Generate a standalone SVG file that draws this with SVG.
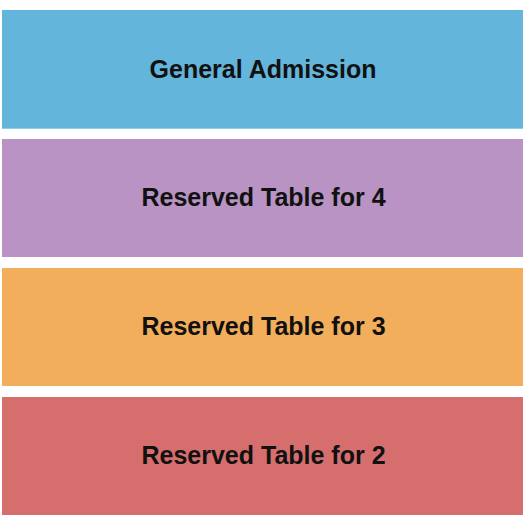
<svg xmlns="http://www.w3.org/2000/svg" width="525" height="525" viewBox="0 0 525 525">
<style>
.lbl{font-family:"Liberation Sans",Arial,sans-serif;font-weight:bold;font-size:25px;fill:#111;text-anchor:middle}
</style>
<rect width="525" height="525" fill="#fff"/>
<g id="general-admission"><rect x="2" y="10" width="521" height="118.7" fill="#63b5dc"/><text class="lbl" x="263" y="77.8">General Admission</text></g>
<g id="table-4"><rect x="2" y="139" width="521" height="118" fill="#b893c3"/><text class="lbl" x="263.5" y="206">Reserved Table for 4</text></g>
<g id="table-3"><rect x="2" y="268" width="521" height="118" fill="#f3ae5b"/><text class="lbl" x="263.5" y="335">Reserved Table for 3</text></g>
<g id="table-2"><rect x="2" y="397" width="521" height="118" fill="#d76e6e"/><text class="lbl" x="263.5" y="464">Reserved Table for 2</text></g>
</svg>
